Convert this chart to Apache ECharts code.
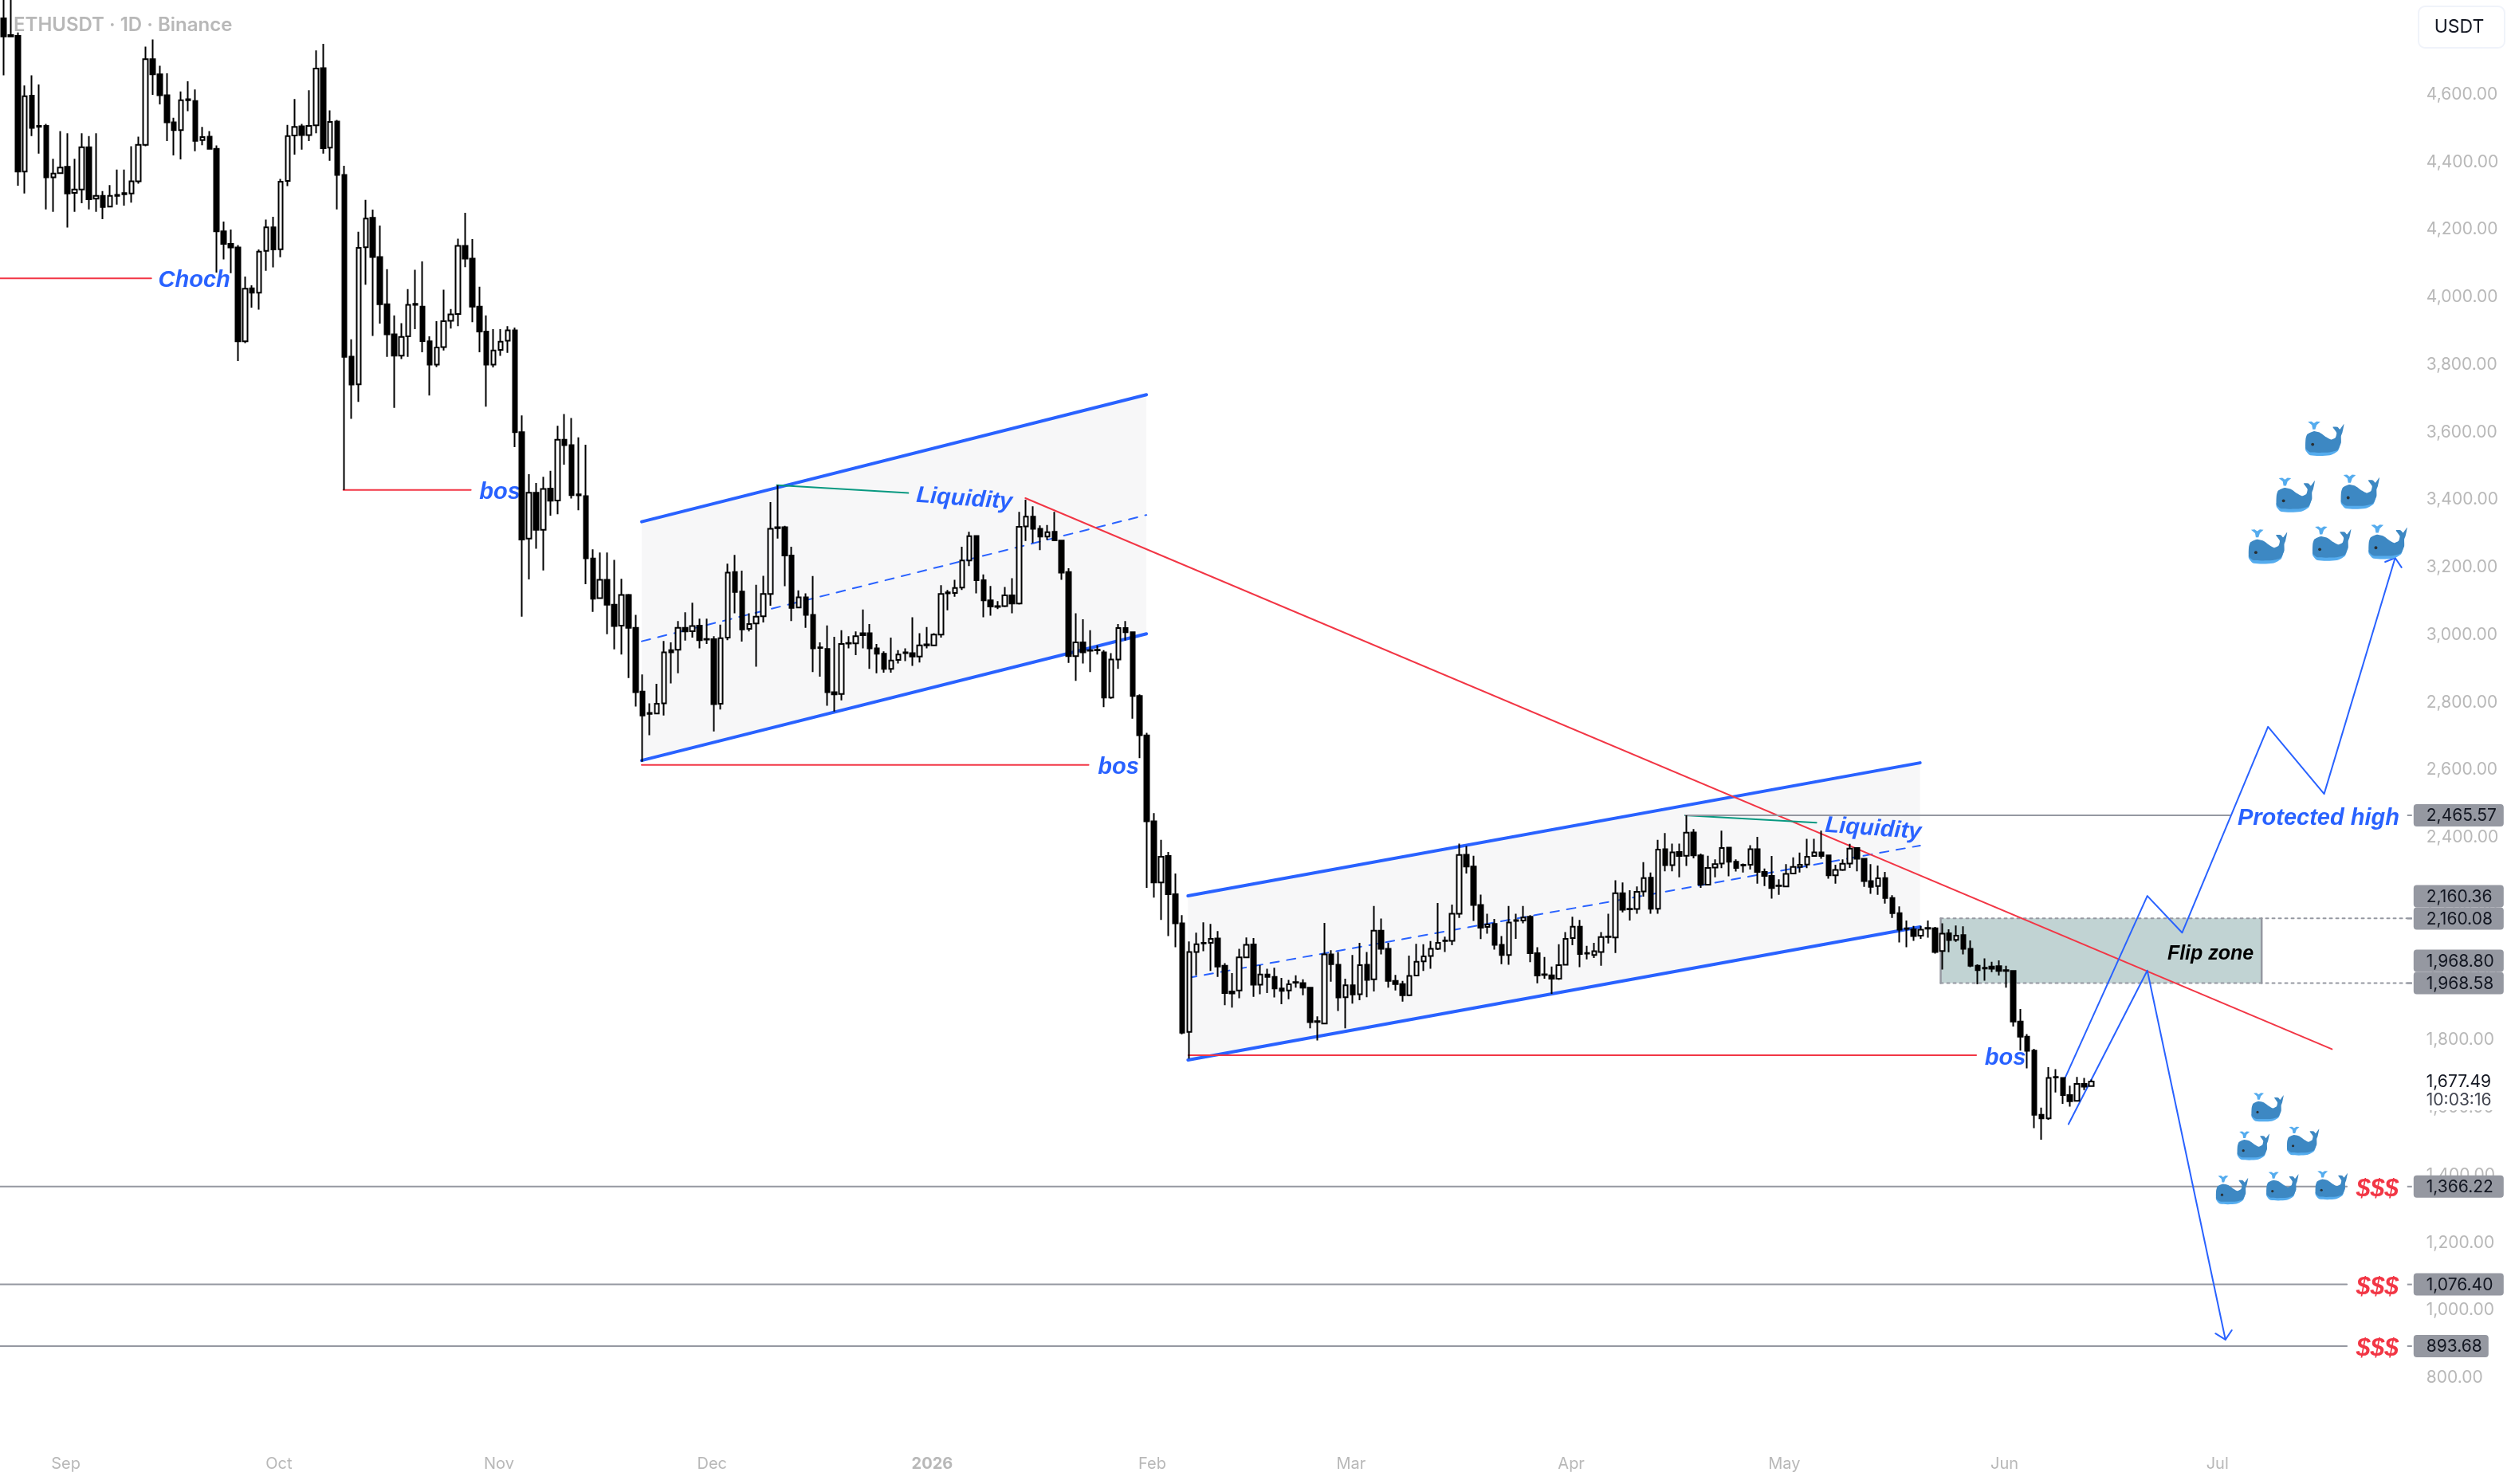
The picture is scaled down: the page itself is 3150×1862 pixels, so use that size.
<!DOCTYPE html>
<html>
<head>
<meta charset="utf-8">
<style>html,body{margin:0;padding:0;background:#fff}#chart{width:3150px;height:1862px}</style>
<script src="https://cdn.jsdelivr.net/npm/echarts@6/dist/echarts.min.js"></script>
</head>
<body>
<div id="chart"></div>
<script>
// Daily ETHUSDT candles, one row per day: [open, high, low, close]
const aug25 = [[4826,4890,4657,4772],[4772,4890,4770,4776],[4774,4784,4330,4372],[4372,4627,4307,4595],[4597,4657,4477,4501],[4505,4630,4425,4507],[4507,4513,4260,4355],[4355,4410,4253,4366],[4367,4492,4365,4384]];
const sep25 = [[4386,4485,4206,4307],[4309,4410,4253,4319],[4319,4485,4278,4444],[4444,4477,4260,4290],[4292,4485,4253,4300],[4300,4314,4231,4267],[4268,4332,4266,4300],[4300,4378,4274,4303],[4305,4378,4271,4308],[4307,4447,4280,4343],[4343,4475,4336,4451],[4451,4742,4447,4705],[4705,4763,4599,4660],[4660,4685,4571,4598],[4598,4663,4462,4518],[4518,4531,4420,4495],[4495,4609,4408,4583],[4583,4639,4551,4586],[4581,4615,4432,4463],[4465,4504,4450,4474],[4475,4492,4438,4439],[4439,4449,4073,4195],[4195,4224,4112,4158],[4158,4200,4071,4147],[4147,4154,3811,3869],[3869,4061,3864,4025],[4026,4035,3969,4013],[4013,4141,3963,4135],[4137,4230,4078,4207],[4207,4238,4088,4141]];
const oct25 = [[4142,4350,4118,4342],[4344,4510,4329,4477],[4479,4587,4422,4504],[4506,4513,4437,4480],[4480,4613,4462,4507],[4509,4731,4485,4677],[4678,4750,4425,4441],[4443,4553,4404,4519],[4520,4525,4260,4362],[4362,4389,3429,3823],[3824,3875,3640,3741],[3742,4194,3690,4146],[4148,4288,4037,4233],[4235,4259,3885,4119],[4119,4212,3922,3979],[3979,4083,3823,3890],[3890,3946,3672,3827],[3827,3923,3817,3882],[3884,4024,3823,3977],[3977,4081,3905,3980],[3972,4106,3837,3870],[3869,3884,3709,3800],[3800,3929,3793,3851],[3852,4022,3842,3929],[3930,3965,3907,3949],[3950,4173,3914,4152],[4152,4250,4089,4114],[4114,4172,3926,3972],[3972,4031,3837,3898],[3898,3946,3676,3800],[3800,3905,3792,3842]];
const nov25 = [[3844,3905,3826,3868],[3871,3914,3835,3902],[3902,3910,3556,3600],[3600,3650,3054,3282],[3285,3476,3164,3421],[3421,3450,3255,3311],[3311,3468,3191,3432],[3433,3486,3353,3397],[3398,3619,3357,3578],[3578,3654,3504,3562],[3562,3642,3404,3414],[3413,3585,3369,3416],[3411,3563,3150,3227],[3226,3253,3068,3107],[3109,3244,3107,3163],[3163,3244,3002,3089],[3089,3222,2957,3026],[3027,3166,2942,3118],[3118,3121,2872,3021],[3021,3059,2788,2830],[2832,2883,2624,2761],[2766,2797,2703,2769],[2767,2855,2766,2796],[2797,2982,2761,2948],[2955,2978,2856,2948],[2956,3041,2886,3021],[3021,3067,2983,3010],[3011,3095,2992,3026],[3027,3048,2960,2984],[2986,3048,2973,2988]];
const dec25 = [[2987,2996,2714,2795],[2796,3030,2779,2990],[2992,3211,2984,3184],[3186,3237,3064,3127],[3128,3190,2980,3016],[3018,3064,3010,3032],[3034,3148,2906,3054],[3055,3175,3037,3121],[3121,3393,3086,3314],[3319,3443,3285,3316],[3319,3323,3144,3235],[3235,3261,3041,3080],[3081,3132,3079,3111],[3111,3123,3021,3059],[3059,3174,2890,2960],[2961,2978,2876,2963],[2958,3028,2790,2830],[2830,2994,2773,2824],[2825,3014,2806,2973],[2974,2996,2960,2976],[2975,3010,2940,2996],[3005,3075,2960,2999],[3005,3032,2899,2960],[2960,2973,2886,2944],[2944,2951,2888,2899],[2899,2992,2888,2924],[2926,2955,2915,2942],[2946,2960,2922,2948],[2946,3052,2908,2936],[2936,3005,2918,2969],[2969,3023,2960,2972]];
const jan26 = [[2969,3005,2967,3001],[3001,3147,2992,3121],[3123,3133,3073,3126],[3124,3163,3113,3139],[3140,3261,3133,3220],[3220,3305,3204,3292],[3293,3294,3123,3162],[3162,3179,3052,3102],[3102,3145,3057,3084],[3083,3100,3076,3085],[3085,3142,3082,3117],[3117,3168,3064,3093],[3093,3364,3090,3320],[3321,3400,3278,3350],[3350,3381,3272,3314],[3314,3324,3251,3291],[3291,3325,3281,3304],[3305,3364,3278,3280],[3279,3280,3163,3184],[3186,3197,2917,2937],[2937,3064,2864,2978],[2978,3046,2915,2948],[2953,3014,2890,2955],[2954,2969,2942,2956],[2948,2955,2786,2814],[2814,2946,2811,2927],[2927,3032,2899,3020],[3020,3041,2983,3008],[3008,3010,2752,2819],[2819,2824,2635,2703],[2702,2710,2251,2448]];
const feb26 = [[2448,2472,2222,2267],[2267,2393,2156,2343],[2345,2357,2108,2232],[2232,2293,2075,2146],[2146,2170,1817,1822],[1824,2092,1745,2061],[2061,2118,1992,2084],[2086,2149,2063,2088],[2088,2144,2005,2100],[2101,2123,1987,2018],[2020,2028,1903,1939],[1944,1998,1896,1938],[1947,2070,1924,2045],[2045,2104,2043,2082],[2083,2102,1928,1964],[1964,2022,1936,1994],[1994,2011,1939,1987],[1987,2014,1926,1953],[1953,1984,1906,1946],[1947,1978,1921,1965],[1970,1992,1955,1972],[1969,1980,1933,1955],[1955,1955,1835,1853],[1854,1870,1799,1856],[1849,2147,1847,2054],[2054,2066,1973,2025],[2023,2061,1886,1926],[1927,1982,1835,1962]];
const mar26 = [[1962,2052,1908,1935],[1936,2088,1918,2022],[2023,2061,1927,1978],[1980,2197,1944,2124],[2124,2160,2054,2070],[2070,2088,1955,1975],[1975,1993,1947,1966],[1966,1975,1914,1933],[1933,2050,1930,1990],[1991,2085,1990,2032],[2033,2084,2005,2048],[2049,2093,2011,2070],[2070,2206,2067,2088],[2093,2106,2061,2095],[2094,2201,2081,2174],[2174,2382,2162,2348],[2349,2375,2293,2314],[2314,2346,2153,2200],[2200,2231,2099,2133],[2135,2174,2115,2142],[2144,2159,2068,2082],[2082,2108,2025,2052],[2052,2197,2023,2148],[2153,2174,2100,2155],[2154,2197,2146,2163],[2165,2170,2031,2057],[2057,2075,1968,1991],[1993,2046,1982,1995],[1992,2018,1937,1982],[1982,2084,1978,2022],[2023,2120,2022,2100]];
const apr26 = [[2102,2165,2081,2136],[2136,2156,2016,2055],[2056,2079,2039,2058],[2052,2088,2043,2063],[2061,2120,2020,2105],[2105,2174,2086,2107],[2104,2273,2058,2235],[2235,2267,2178,2186],[2187,2244,2154,2189],[2188,2255,2174,2239],[2240,2327,2225,2280],[2281,2296,2174,2189],[2189,2393,2174,2364],[2365,2413,2300,2318],[2318,2382,2300,2356],[2357,2382,2282,2345],[2346,2465.57,2316,2414],[2415,2425,2338,2347],[2347,2352,2251,2260],[2260,2346,2258,2310],[2311,2335,2282,2321],[2323,2420,2309,2369],[2370,2371,2285,2328],[2328,2335,2299,2310],[2317,2323,2296,2319],[2319,2377,2305,2365],[2365,2402,2263,2298],[2298,2308,2256,2286],[2286,2345,2219,2250],[2256,2276,2230,2258]];
const may26 = [[2255,2321,2254,2292],[2293,2341,2292,2313],[2313,2355,2296,2319],[2320,2396,2309,2343],[2345,2396,2343,2356],[2356,2420,2337,2345],[2347,2349,2278,2288],[2288,2319,2263,2304],[2304,2335,2301,2322],[2323,2381,2310,2367],[2369,2370,2300,2337],[2337,2339,2254,2271],[2271,2321,2233,2254],[2256,2317,2230,2279],[2280,2298,2204,2221],[2221,2229,2162,2176],[2176,2196,2089,2127],[2129,2154,2075,2131],[2128,2138,2094,2108],[2109,2138,2100,2127],[2130,2154,2103,2132],[2131,2135,2056,2061],[2064,2146,2009,2115],[2116,2128,2060,2096],[2097,2139,2091,2109],[2111,2137,2054,2070],[2070,2095,2016,2020],[2020,2024,1965,2007],[2012,2042,1976,2014],[2018,2032,2001,2011],[2019,2036,1991,2005]];
const jun26 = [[2005,2020,1955,2007],[2005,2006,1840,1855],[1855,1892,1769,1810],[1810,1818,1716,1768],[1769,1774,1539,1579],[1579,1600,1505,1568],[1568,1720,1564,1688],[1689,1714,1645,1691],[1688,1690,1611,1637],[1637,1665,1603,1619],[1620,1691,1618,1670],[1670,1688,1652,1662],[1664,1683,1662,1677.49]];

// Tick labels
const monthTicks = {'2025-09-01':'Sep','2025-10-01':'Oct','2025-11-01':'Nov','2025-12-01':'Dec','2026-01-01':'2026','2026-02-01':'Feb','2026-03-01':'Mar','2026-04-01':'Apr','2026-05-01':'May','2026-06-01':'Jun','2026-07-01':'Jul'};
const firstDay = '2025-08-23';
const dayCount = 339;

// Drawn levels and price tags
const liquidityLevels = [1366.22, 1076.40, 893.68];
const protectedHigh = 2465.57;
const flipZone = [2160.36, 2160.08, 1968.80, 1968.58];
const priceTags = [2465.57, 2160.36, 2160.08, 1968.80, 1968.58, 1366.22, 1076.40, 893.68];
const countdown = '10:03:16';

// Chart drawings as [day index, price]
const redLines = [
  [[-1,4056],[20.8,4056]],
  [[47.85,3429],[65.8,3429]],
  [[89.87,2615],[152.8,2615]],
  [[166.85,1755],[277.8,1755]],
  [[143.9,3405],[327.9,1773]]
];
const channelBounds = [
  [[89.87,3335],[160.95,3711]], [[89.87,2628],[160.95,3003]],
  [[166.8,2227],[269.9,2621]], [[166.8,1741],[269.9,2135]]
];
const channelMids = [
  [[89.87,2981],[160.95,3355]],
  [[166.8,1984],[269.9,2376]]
];
const channelFills = [
  [89.87,2628,3335,160.95,3003,3711],
  [166.8,1741,2227,269.9,2135,2621]
];
const greenLines = [
  [[108.9,3443],[127.4,3420]],
  [[236.8,2465.5],[255.3,2444]]
];
const projectionUp = [[290.3,1687],[301.9,2227],[306.8,2118],[318.9,2728],[326.8,2529],[336.8,3228]];
const projectionUpHead = [[335.4,3216],[336.8,3228],[337.7,3200]];
const projectionDown = [[290.8,1551],[301.9,2006],[312.9,913]];
const projectionDownHead = [[311.5,931],[312.9,913],[313.8,941]];
const flipZoneDays = [272.8, 318.0];
const rightEdgeDay = 338.5;
const levelEndDay = 330;
const protectedEndDay = 313.5;
const protectedStartDay = 236.85;

const notes = [
  ['Choch', 26.85, 4053, 0, 'blue'],
  ['bos', 69.9, 3426, 0, 'blue'],
  ['bos', 157, 2612, 0, 'blue'],
  ['bos', 281.9, 1751, 0, 'blue'],
  ['Liquidity', 135.3, 3407, -0.07, 'blue'],
  ['Liquidity', 263.3, 2430, -0.07, 'blue'],
  ['Protected high', 326, 2460, 0, 'blue'],
  ['Flip zone', 310.8, 2060, 0, 'black'],
  ['$$$', 334.3, 1363, 0, 'red'],
  ['$$$', 334.3, 1073, 0, 'red'],
  ['$$$', 334.3, 890, 0, 'red']
];

const largeWhales = [[324.2,3634],[320.1,3467],[329.2,3476],[316.2,3314],[325.2,3323],[333.1,3328]];
const smallWhales = [[316.6,1645],[314.6,1531],[321.6,1545],[311.6,1400],[318.7,1411],[325.6,1414]];

// Colours and fonts
const BLUE = '#2962ff', RED = '#f23645', GREEN = '#089981', GREY = '#9598a1', MUTED = '#b8b8b8';
const FONT = '"Liberation Sans", Arial, sans-serif';
const UI_FONT = 'Inter, "Liberation Sans", sans-serif';
const noteFill = {blue: BLUE, black: '#000000', red: RED};
const noteSize = {blue: 29, black: 25, red: 32};

// Whale icon parts, in icon-local pixels
const whaleShade = [[0,27],[5,30],[25,30.5],[36,21],[34,31],[25,36],[5,36],[0,31]];
const whaleBody = [[0,19],[1.7,14],[8.3,11],[15,12.5],[21.7,17.2],[26.7,19.7],[31.2,17.5],[32.3,12.5],[28.3,6.5],[33.3,6.5],[35.7,9],[40,3.5],[38.3,12.5],[37,16],[37,23],[33.3,30.5],[25,33],[5,33],[0,29]];
const whaleSpout = [[2.3,1],[6,0.6],[8.7,2.5],[11.5,0.6],[15.3,1],[11.5,4.5],[10,9],[7.3,9],[6.5,4.5]];

const candles = [...aug25, ...sep25, ...oct25, ...nov25, ...dec25, ...jan26, ...feb26, ...mar26, ...apr26, ...may26, ...jun26];
const lastClose = candles[candles.length - 1][3];

const categories = [];
for (let i = 0; i < dayCount; i++) {
  const d = new Date(Date.parse(firstDay + 'T00:00:00Z') + i * 86400000);
  categories.push(d.toISOString().slice(0, 10));
}

const fmt = v => v.toLocaleString('en-US', {minimumFractionDigits: 2, maximumFractionDigits: 2});

function polyline(points, color, width, dash, z) {
  return {
    type: 'line', xAxisIndex: 1, yAxisIndex: 0, data: points, symbol: 'none', silent: true, animation: false, z: z || 2,
    lineStyle: {color: color, width: width, type: dash || 'solid', cap: 'round', join: 'round'}
  };
}

const series = [];

// Channel backgrounds
series.push({
  type: 'custom', xAxisIndex: 1, yAxisIndex: 0, data: channelFills, silent: true, animation: false, z: 1,
  renderItem: (params, api) => {
    const pts = [[0,2],[3,5],[3,4],[0,1]].map(p => api.coord([api.value(p[0]), api.value(p[1])]));
    return {type: 'polygon', shape: {points: pts}, style: {fill: '#f7f7f8'}};
  }
});

// Flip zone box
series.push({
  type: 'custom', xAxisIndex: 1, yAxisIndex: 0, data: [[flipZoneDays[0], flipZone[0], flipZoneDays[1], flipZone[3]]], silent: true, animation: false, z: 1,
  renderItem: (params, api) => {
    const a = api.coord([api.value(0), api.value(1)]);
    const b = api.coord([api.value(2), api.value(3)]);
    return {type: 'rect', shape: {x: a[0], y: a[1], width: b[0] - a[0], height: b[1] - a[1]}, style: {fill: '#c1d3d3'}};
  }
});
flipZoneDays.forEach(d => series.push(polyline([[d, flipZone[0]], [d, flipZone[3]]], GREY, 2.5)));
series.push(polyline([[flipZoneDays[0], flipZone[0]], [rightEdgeDay, flipZone[0]]], GREY, 2, [3, 5]));
series.push(polyline([[flipZoneDays[0], flipZone[3]], [rightEdgeDay, flipZone[3]]], GREY, 2, [3, 5]));

channelBounds.forEach(s => series.push(polyline(s, BLUE, 4)));
channelMids.forEach(s => series.push(polyline(s, BLUE, 2, [11, 10])));
redLines.forEach(s => series.push(polyline(s, RED, 2)));
greenLines.forEach(s => series.push(polyline(s, GREEN, 2)));
liquidityLevels.forEach(v => series.push(polyline([[-1, v], [levelEndDay, v]], GREY, 2)));
series.push(polyline([[protectedStartDay, protectedHigh], [protectedEndDay, protectedHigh]], GREY, 2));
[projectionUp, projectionUpHead, projectionDown, projectionDownHead].forEach(s => series.push(polyline(s, BLUE, 2, null, 3)));

// Text notes sit under the candles
series.push({
  type: 'custom', xAxisIndex: 1, yAxisIndex: 0, data: notes.map(n => [n[1], n[2], n[3]]), silent: true, animation: false, clip: false, z: 3,
  renderItem: (params, api) => {
    const n = notes[params.dataIndex];
    const p = api.coord([api.value(0), api.value(1)]);
    return {
      type: 'text', x: p[0], y: p[1] + 2, rotation: api.value(2),
      style: {text: n[0], x: 0, y: 0, fill: noteFill[n[4]], font: 'italic bold ' + noteSize[n[4]] + 'px ' + FONT, align: 'center', verticalAlign: 'middle'}
    };
  }
});

// Candles
series.push({
  type: 'candlestick', xAxisIndex: 0, yAxisIndex: 0, animation: false, silent: true, z: 5, barWidth: 6,
  data: candles.map(c => [c[0], c[3], c[2], c[1]]),
  itemStyle: {color: '#ffffff', color0: '#000000', borderColor: '#000000', borderColor0: '#000000', borderWidth: 2}
});

// Whales
function whaleSeries(list, scale) {
  return {
    type: 'custom', xAxisIndex: 1, yAxisIndex: 0, data: list, silent: true, animation: false, clip: false, z: 6,
    renderItem: (params, api) => {
      const p = api.coord([api.value(0), api.value(1)]);
      return {
        type: 'group', x: p[0], y: p[1], scaleX: scale, scaleY: scale,
        children: [
          {type: 'polygon', shape: {points: whaleShade, smooth: 0.25}, style: {fill: '#55acee'}},
          {type: 'polygon', shape: {points: whaleBody, smooth: 0.18}, style: {fill: '#3d88c3'}},
          {type: 'polygon', shape: {points: whaleSpout}, style: {fill: '#55acee'}},
          {type: 'circle', shape: {cx: 7.3, cy: 24.7, r: 1.6}, style: {fill: '#292f33'}}
        ]
      };
    }
  };
}
series.push(whaleSeries(smallWhales, 1));
series.push(whaleSeries(largeWhales, 1.2));

// Price tags on the axis, stepped apart when two would overlap
series.push({
  type: 'custom', xAxisIndex: 1, yAxisIndex: 0, data: priceTags.map(v => [rightEdgeDay, v]), silent: true, animation: false, clip: false, z: 8,
  renderItem: (params, api) => {
    const v = api.value(1);
    const p = api.coord([rightEdgeDay, v]);
    const next = priceTags[params.dataIndex + 1];
    let y = p[1];
    if (next !== undefined) {
      const ny = api.coord([rightEdgeDay, next])[1];
      if (ny - y < 28) y = ny - 28;
    }
    const w = v < 1000 ? 94 : 113;
    const x = p[0] + 8;
    return {
      type: 'group',
      children: [
        {type: 'rect', shape: {x: p[0], y: p[1] - 1, width: 6, height: 2}, style: {fill: GREY}},
        {type: 'rect', shape: {x: x, y: y - 14, width: w, height: 28, r: 4}, style: {fill: GREY}},
        {type: 'text', style: {text: fmt(v), x: x + 16, y: y + 1, fill: '#131722', font: '21px ' + UI_FONT, align: 'left', verticalAlign: 'middle'}}
      ]
    };
  }
});

// Last price with its countdown
series.push({
  type: 'custom', xAxisIndex: 1, yAxisIndex: 0, data: [[rightEdgeDay, lastClose]], silent: true, animation: false, clip: false, z: 8,
  renderItem: (params, api) => {
    const p = api.coord([api.value(0), api.value(1)]);
    return {
      type: 'group',
      children: [
        {type: 'rect', shape: {x: p[0] + 8, y: p[1] - 14, width: 113, height: 50}, style: {fill: '#ffffff'}},
        {type: 'text', style: {text: fmt(lastClose), x: p[0] + 24, y: p[1] + 1, fill: '#131722', font: '21px ' + UI_FONT, align: 'left', verticalAlign: 'middle'}},
        {type: 'text', style: {text: countdown, x: p[0] + 24, y: p[1] + 24, fill: '#434651', font: '21px ' + UI_FONT, align: 'left', verticalAlign: 'middle'}}
      ]
    };
  }
});

const chart = echarts.init(document.getElementById('chart'), null, {renderer: 'canvas'});
chart.setOption({
  animation: false,
  backgroundColor: '#ffffff',
  title: {text: 'ETHUSDT · 1D · Binance', left: 17, top: 20, padding: 0, textStyle: {color: MUTED, fontFamily: UI_FONT, fontSize: 24, fontWeight: 600}},
  grid: {left: -2, top: 0, width: 3021.8, height: 1813.45, containLabel: false},
  xAxis: [
    {
      type: 'category', data: categories, boundaryGap: true,
      axisLine: {show: false}, axisTick: {show: false}, splitLine: {show: false},
      axisLabel: {
        interval: (i, v) => v in monthTicks,
        hideOverlap: false, margin: 14, color: MUTED, fontFamily: UI_FONT, fontSize: 20, padding: [0, 4, 0, 0],
        formatter: v => {
          const t = monthTicks[v];
          return t === '2026' ? '{year|' + t + '}' : t;
        },
        rich: {year: {color: MUTED, fontFamily: UI_FONT, fontSize: 20, fontWeight: 'bold'}}
      }
    },
    {type: 'value', show: false, min: -0.5, max: dayCount - 0.5, splitLine: {show: false}}
  ],
  yAxis: {
    type: 'value', position: 'right', min: 600, max: 4880, interval: 200, scale: true,
    axisLine: {show: false}, axisTick: {show: false}, splitLine: {show: false},
    axisLabel: {
      margin: 24, color: MUTED, fontFamily: UI_FONT, fontSize: 21, align: 'left', padding: [3, 0, 0, 0], showMinLabel: true, showMaxLabel: true,
      formatter: v => (v >= 800 && v <= 4600 && v % 200 === 0) ? fmt(v) : ''
    }
  },
  graphic: [
    {type: 'rect', z: 10, shape: {x: 3034, y: 8, width: 108, height: 52, r: 8}, style: {fill: '#ffffff', stroke: '#f0f3fa', lineWidth: 2}},
    {type: 'text', z: 11, style: {text: 'USDT', x: 3085, y: 34, fill: '#131722', font: '23px ' + UI_FONT, align: 'center', verticalAlign: 'middle'}}
  ],
  series: series
});
</script>
</body>
</html>
